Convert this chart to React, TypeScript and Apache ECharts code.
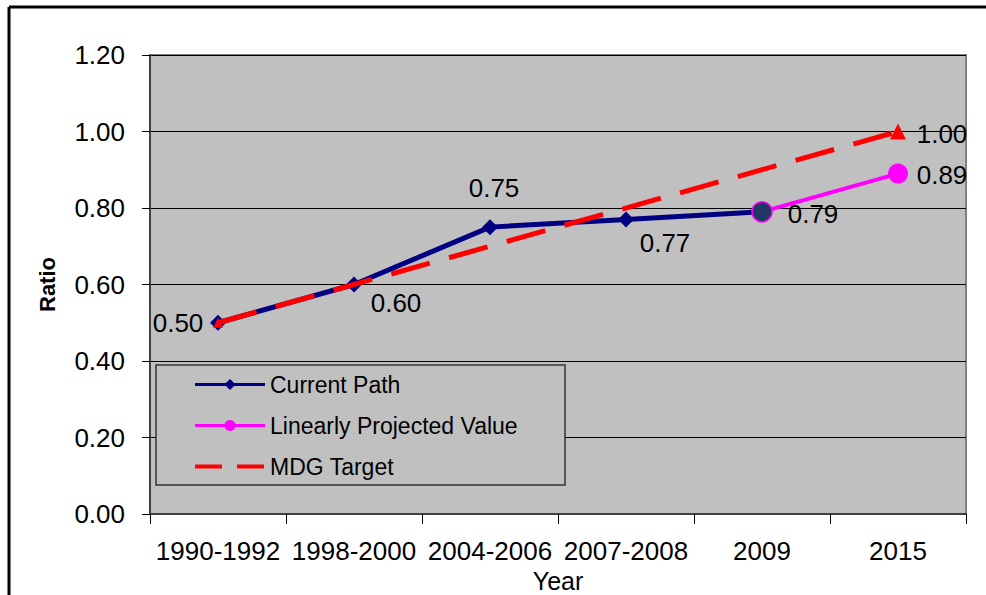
import React, { useEffect, useRef } from "react";
import * as echarts from "echarts";

const categories = ["1990-1992", "1998-2000", "2004-2006", "2007-2008", "2009", "2015"];
const currentPath = [0.5, 0.6, 0.75, 0.77, 0.79, null];
const projected = [null, null, null, null, 0.79, 0.89];
const mdgTarget = [0.5, null, null, null, null, 1.0];
const yTicks = { min: 0, max: 1.2, interval: 0.2 };

const FONT = "'Liberation Sans', Arial, sans-serif";

export default function App() {
  const ref = useRef<HTMLDivElement>(null);
  useEffect(() => {
    if (!ref.current) return;
    const chart = echarts.init(ref.current, undefined, { renderer: "svg" });
    const lbl = (offset: number[]) => ({
      show: true,
      position: "inside",
      offset,
      fontSize: 26,
      fontFamily: FONT,
      color: "#000",
      formatter: (p: any) => Number(p.value).toFixed(2),
    });
    const currentOffsets = [[-40, 0], [42, 18], [4, -39], [39, 24], [51, 2]];
    chart.setOption({
      animation: false,
      backgroundColor: "#ffffff",
      textStyle: { fontFamily: FONT },
      grid: {
        left: 150, right: 20, top: 55, bottom: 81,
        outerBoundsMode: "none",
        containLabel: false,
        show: true, backgroundColor: "#C0C0C0", borderColor: "#808080", borderWidth: 2,
      },
      legend: {
        orient: "vertical",
        left: 188,
        top: 368,
        z: 10,
        itemWidth: 70,
        itemHeight: 14,
        itemGap: 18,
        textStyle: { fontSize: 23, fontFamily: FONT, color: "#000" },
        data: [
          { name: "Current Path", lineStyle: { width: 3 } },
          { name: "Linearly Projected Value", lineStyle: { width: 3 } },
          { name: "MDG Target", itemStyle: { opacity: 0 }, lineStyle: { width: 4, type: [27, 15] } },
        ],
      },
      graphic: [
        { type: "rect", shape: { x: 156, y: 365, width: 409, height: 120 }, style: { fill: "#C0C0C0", stroke: "#333", lineWidth: 1.5 }, z: 3 },
        { type: "line", shape: { x1: 9, y1: 7, x2: 986, y2: 7 }, style: { stroke: "#000", lineWidth: 3 } },
        { type: "line", shape: { x1: 9, y1: 7, x2: 9, y2: 595 }, style: { stroke: "#000", lineWidth: 3 } },
      ],
      xAxis: {
        type: "category",
        data: categories,
        boundaryGap: true,
        name: "Year",
        nameLocation: "middle",
        nameGap: 50,
        nameTextStyle: { fontSize: 25, fontFamily: FONT, color: "#000" },
        axisLine: { lineStyle: { color: "#404040", width: 2 } },
        axisTick: { show: true, length: 10, lineStyle: { color: "#000" }, alignWithLabel: false },
        axisLabel: { interval: 0, fontSize: 26, fontFamily: FONT, color: "#000", margin: 24 },
        splitLine: { show: false },
      },
      yAxis: {
        type: "value",
        min: yTicks.min,
        max: yTicks.max,
        interval: yTicks.interval,
        name: "Ratio",
        nameLocation: "middle",
        nameGap: 92,
        nameTextStyle: { fontSize: 22, fontWeight: "bold", fontFamily: FONT, color: "#000" },
        axisLine: { show: true, lineStyle: { color: "#404040", width: 2 } },
        axisTick: { show: true, length: 8, lineStyle: { color: "#000" } },
        axisLabel: { fontSize: 26, fontFamily: FONT, color: "#000", margin: 25, formatter: (v: number) => v.toFixed(2) },
        splitLine: { show: true, lineStyle: { color: "#000", width: 1 } },
      },
      series: [
        {
          name: "MDG Target",
          type: "line",
          connectNulls: true,
          z: 4,
          data: mdgTarget.map((v, i) =>
            v === null
              ? null
              : {
                  value: v,
                  symbol: "triangle",
                  symbolSize: i === 0 ? 10 : 16,
                  label: i === mdgTarget.length - 1 ? lbl([44, 2]) : { show: false },
                }
          ),
          symbol: "none",
          showSymbol: true,
          lineStyle: { color: "#FF0000", width: 5, type: [40, 20] },
          itemStyle: { color: "#FF0000" },
        },
        {
          name: "Current Path",
          type: "line",
          z: 3,
          data: currentPath.map((v, i) =>
            v === null ? null : { value: v, label: lbl(currentOffsets[i]) }
          ),
          symbol: "diamond",
          symbolSize: 16,
          lineStyle: { color: "#000080", width: 5 },
          itemStyle: { color: "#000080" },
        },
        {
          name: "Linearly Projected Value",
          type: "line",
          z: 3,
          data: projected.map((v, i) =>
            v === null
              ? null
              : i === 4
              ? { value: v, itemStyle: { color: "#1F3864", borderColor: "#FF00FF", borderWidth: 1.5 }, label: { show: false } }
              : { value: v, label: lbl([44, 1]) }
          ),
          symbol: "circle",
          symbolSize: 20,
          lineStyle: { color: "#FF00FF", width: 4 },
          itemStyle: { color: "#FF00FF" },
        },
      ],
    });
    return () => chart.dispose();
  }, []);
  return <div ref={ref} style={{ position: "absolute", left: 0, top: 0, width: 986, height: 595 }} />;
}
